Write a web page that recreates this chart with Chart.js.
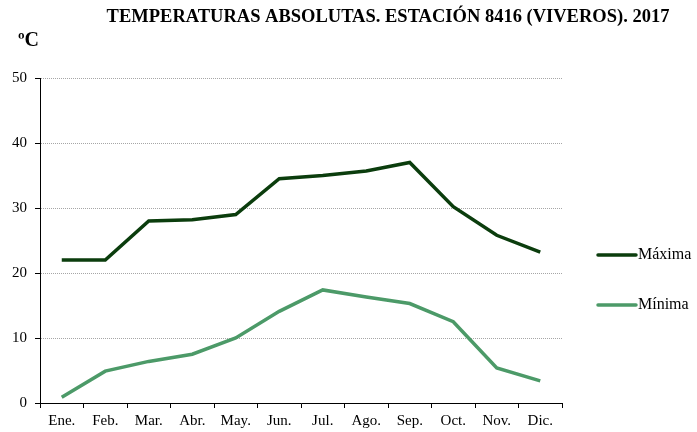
<!DOCTYPE html>
<html>
<head>
<meta charset="utf-8">
<script src="https://cdn.jsdelivr.net/npm/chart.js@4/dist/chart.umd.min.js"></script>
<style>
  html, body { margin: 0; padding: 0; background: #fff; }
  #wrap { width: 697px; height: 432px; }
</style>
</head>
<body>
<div id="wrap"><canvas id="tempChart" width="697" height="432"></canvas></div>
<script>
const months = ["Ene.", "Feb.", "Mar.", "Abr.", "May.", "Jun.", "Jul.", "Ago.", "Sep.", "Oct.", "Nov.", "Dic."];
const maxima = [22, 22, 28, 28.2, 29, 34.5, 35, 35.7, 37, 30.2, 25.8, 23.2];
const minima = [0.9, 4.9, 6.4, 7.5, 10, 14.1, 17.4, 16.3, 15.3, 12.5, 5.4, 3.4];
const chartTitle = "TEMPERATURAS ABSOLUTAS. ESTACIÓN 8416 (VIVEROS). 2017";
const unitLabel = "ºC";

const serif = '"Liberation Serif", "Times New Roman", serif';

// title, unit label and the legend on the right
const extras = {
  id: "extras",
  afterDraw(chart) {
    const ctx = chart.ctx;
    ctx.save();
    ctx.fillStyle = "#000";
    ctx.textBaseline = "middle";

    ctx.font = "bold 18.5px " + serif;
    ctx.textAlign = "center";
    ctx.fillText(chartTitle, 388, 17);

    ctx.font = "bold 20px " + serif;
    ctx.textAlign = "left";
    ctx.fillText(unitLabel, 18, 41);

    ctx.font = "16px " + serif;
    chart.data.datasets.forEach((ds, i) => {
      const y = 255 + i * 50;
      ctx.strokeStyle = ds.borderColor;
      ctx.lineWidth = 3.5;
      ctx.lineCap = "round";
      ctx.beginPath();
      ctx.moveTo(598, y);
      ctx.lineTo(636, y);
      ctx.stroke();
      ctx.fillText(ds.label, 638, y);
    });
    ctx.restore();
  }
};

new Chart(document.getElementById("tempChart"), {
  type: "line",
  data: {
    labels: months,
    datasets: [
      {
        label: "Máxima",
        data: maxima,
        borderColor: "#0b3d0d",
        borderWidth: 3.5,
        pointRadius: 0,
        tension: 0
      },
      {
        label: "Mínima",
        data: minima,
        borderColor: "#4c9a68",
        borderWidth: 3.5,
        pointRadius: 0,
        tension: 0
      }
    ]
  },
  options: {
    responsive: false,
    animation: false,
    layout: { padding: { top: 78, right: 135, bottom: 0, left: 0 } },
    plugins: {
      legend: { display: false },
      title: { display: false },
      tooltip: { enabled: false }
    },
    scales: {
      x: {
        offset: true,
        grid: { drawOnChartArea: false, offset: true, tickLength: 5, tickColor: "#000" },
        border: { color: "#000", width: 1 },
        ticks: { color: "#000", font: { family: serif, size: 15 }, padding: 4, maxRotation: 0 },
        afterFit: s => { s.height = 29; }
      },
      y: {
        min: 0,
        max: 50,
        ticks: { stepSize: 10, color: "#000", font: { family: serif, size: 15 }, padding: 8 },
        grid: { color: "#a6a6a6", tickLength: 5, tickColor: "#000" },
        border: { color: "#000", width: 1, dash: [1, 1] },
        afterFit: s => { s.width = 40; }
      }
    }
  },
  plugins: [extras]
});
</script>
</body>
</html>
